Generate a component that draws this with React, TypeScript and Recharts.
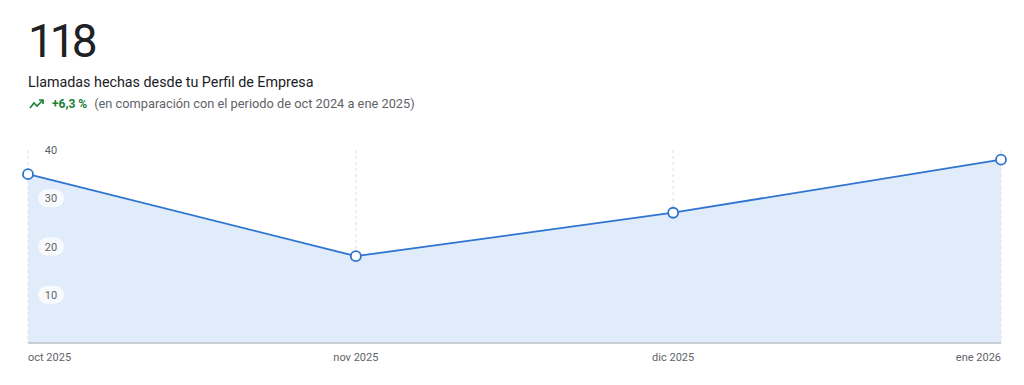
import { Area, AreaChart, CartesianGrid, XAxis, YAxis } from "recharts";

const months = ["oct 2025", "nov 2025", "dic 2025", "ene 2026"];
const monthStarts = ["2025-10-01", "2025-11-01", "2025-12-01", "2026-01-01"];
const calls = [35, 18, 27, 38];
const yTicks = [0, 10, 20, 30, 40];

const times = monthStarts.map((d) => new Date(d + "T00:00:00Z").getTime());
const data = times.map((t, i) => ({ t, month: months[i], calls: calls[i] }));

const FONT = "Roboto, 'Noto Sans', Arial, sans-serif";

function MonthTick(props: any) {
    const { x, y, payload } = props;
    const index = times.indexOf(payload.value);
    const anchor = index === 0 ? "start" : index === months.length - 1 ? "end" : "middle";
    return (
        <text x={x} y={y + 10} textAnchor={anchor} fill="#5f6368" fontSize={11} fontFamily={FONT}>
            {months[index]}
        </text>
    );
}

function ValueTick(props: any) {
    const { x, y, payload } = props;
    if (payload.value === 0) return null;
    const cx = x + 15;
    return (
        <g>
            {payload.value !== 40 && (
                <rect x={cx - 13} y={y - 9} width={26} height={18} rx={9} fill="#ffffff" fillOpacity={0.75} />
            )}
            <text x={cx} y={y + 4} textAnchor="middle" fill="#5f6368" fontSize={11} fontFamily={FONT}>
                {payload.value}
            </text>
        </g>
    );
}

export default function App() {
    return (
        <div style={{ position: "relative", width: 1024, height: 385, margin: -8, background: "#fff", fontFamily: FONT }}>
            <div style={{ position: "absolute", left: 28, top: 15, fontSize: 46, letterSpacing: -4, color: "#202124", lineHeight: "52px" }}>
                118
            </div>
            <div style={{ position: "absolute", left: 28, top: 74, fontSize: 14.3, color: "#202124" }}>
                Llamadas hechas desde tu Perfil de Empresa
            </div>
            <div style={{ position: "absolute", left: 28, top: 96, fontSize: 12.8, color: "#5f6368", display: "flex", alignItems: "center" }}>
                <svg width={18} height={14} viewBox="0 0 18 14" style={{ marginRight: 6 }}>
                    <polyline points="2,11 6,6 9,9 15,3" fill="none" stroke="#188038" strokeWidth={1.6} />
                    <polyline points="11,3 15,3 15,7" fill="none" stroke="#188038" strokeWidth={1.6} />
                </svg>
                <span style={{ color: "#188038", fontWeight: 700, marginRight: 7, fontSize: 12 }}>+6,3 %</span>
                <span>(en comparación con el periodo de oct 2024 a ene 2025)</span>
            </div>
            <div style={{ position: "absolute", left: 0, top: 130 }}>
                <AreaChart width={1024} height={250} data={data} margin={{ top: 20, right: 23, bottom: 7, left: 28 }}>
                    <CartesianGrid horizontal={false} strokeDasharray="3 3" stroke="#dadce0" />
                    <Area
                        type="linear"
                        dataKey="calls"
                        stroke="#2f74d0"
                        strokeWidth={1.8}
                        fill="#e1ecfb"
                        fillOpacity={1}
                        dot={{ r: 5, fill: "#ffffff", stroke: "#2f74d0", strokeWidth: 1.8 }}
                        activeDot={false}
                        isAnimationActive={false}
                    />
                    <XAxis
                        dataKey="t"
                        type="number"
                        scale="time"
                        domain={[times[0], times[times.length - 1]]}
                        ticks={times}
                        axisLine={{ stroke: "#bdc1c6", strokeWidth: 1.5 }}
                        tickLine={false}
                        tick={<MonthTick />}
                        height={30}
                        interval={0}
                    />
                    <YAxis
                        domain={[0, 40]}
                        ticks={yTicks}
                        width={1}
                        mirror
                        axisLine={false}
                        tickLine={false}
                        tick={<ValueTick />}
                    />
                </AreaChart>
            </div>
        </div>
    );
}
